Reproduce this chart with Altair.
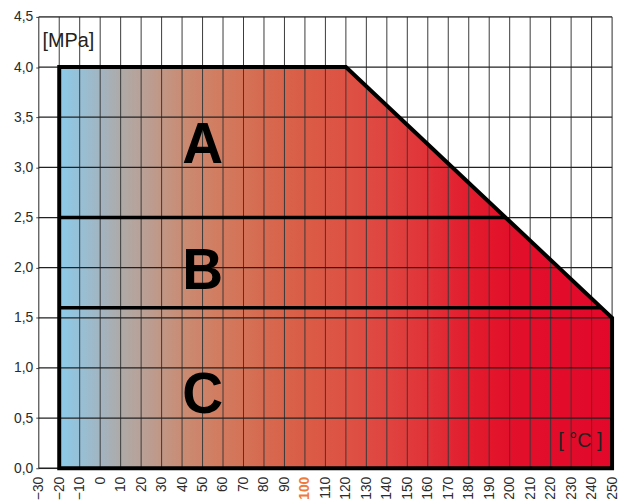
import altair as alt
import pandas as pd

# Grid ticks
x_ticks = list(range(-30, 251, 10))
y_ticks = [0.0, 0.5, 1.0, 1.5, 2.0, 2.5, 3.0, 3.5, 4.0, 4.5]

# Pressure-temperature envelope (°C, MPa)
env_t = [-20, 120, 250]
env_p = [4.0, 4.0, 1.5]

# Outline of the envelope
outline_t = [-20, -20, 120, 250, 250, -20]
outline_p = [0.0, 4.0, 4.0, 1.5, 0.0, 0.0]

# Class boundaries
bound_A_B_t = [-20, 198]
bound_A_B_p = [2.5, 2.5]
bound_B_C_t = [-20, 245]
bound_B_C_p = [1.6, 1.6]

# Class labels
cls_text = ["A", "B", "C"]
cls_t = [50, 50, 50]
cls_p = [3.23, 1.98, 0.74]

# Gradient colour stops by temperature
grad_t = [-20, 0, 10, 20, 40, 60, 80, 100, 120, 140, 160, 180, 200, 250]
grad_c = ["#8ccbea", "#a2b5c2", "#aeaaa8", "#b9a198", "#c98c74", "#d27a5e",
          "#d66a50", "#da5c46", "#dd5244", "#df4440", "#e13238", "#e21c2e",
          "#e2102a", "#e2082a"]

xs = alt.Scale(domain=[-30, 250], nice=False, zero=False)
ys = alt.Scale(domain=[0, 4.5], nice=False, zero=False)

stops = [alt.GradientStop(offset=(t - env_t[0]) / (env_t[-1] - env_t[0]), color=c)
         for t, c in zip(grad_t, grad_c)]

x_axis = alt.Axis(
    values=x_ticks, grid=False, domain=False, ticks=False, title=None,
    labelAngle=270, labelPadding=8, labelFontSize=14, labelFont="Liberation Sans",
    labelColor={"condition": {"test": "datum.value == 100", "value": "#f07a3a"}, "value": "#2a2a2a"},
    labelFontWeight={"condition": {"test": "datum.value == 100", "value": "bold"}, "value": "normal"},
    labelOverlap=False, labelFlush=False, labelBound=False,
)
y_axis = alt.Axis(
    values=y_ticks, grid=False, domain=False, ticks=True, tickSize=3,
    tickColor="#444444", title=None, labelFontSize=14, labelFont="Liberation Sans",
    labelColor="#2a2a2a", labelPadding=3,
    labelExpr="replace(format(datum.value, '.1f'), '.', ',')",
    labelOverlap=False, labelFlush=False, labelBound=False,
)

X = lambda: alt.X("t:Q", scale=xs, axis=x_axis)
Y = lambda: alt.Y("p:Q", scale=ys, axis=y_axis)

area = alt.Chart(pd.DataFrame({"t": env_t, "p": env_p})).mark_area(
    color=alt.Gradient(gradient="linear", stops=stops, x1=0, x2=1, y1=0, y2=0),
    interpolate="linear",
).encode(x=X(), y=Y(), y2=alt.datum(0))

vgrid = alt.Chart(pd.DataFrame({"t": x_ticks})).mark_rule(
    color="#3a3a3a", strokeWidth=1
).encode(x=X())

hgrid = alt.Chart(pd.DataFrame({"p": y_ticks})).mark_rule(
    color="#222222", strokeWidth=1.3
).encode(y=Y())

outline = alt.Chart(pd.DataFrame({"t": outline_t, "p": outline_p,
                                  "o": list(range(len(outline_t)))})).mark_line(
    color="black", strokeWidth=4, strokeJoin="miter", strokeCap="square"
).encode(x=X(), y=Y(), order="o:Q")

bounds_df = pd.DataFrame({
    "t": bound_A_B_t + bound_B_C_t,
    "p": bound_A_B_p + bound_B_C_p,
    "g": ["ab", "ab", "bc", "bc"],
})
bounds = alt.Chart(bounds_df).mark_line(color="black", strokeWidth=3.5).encode(
    x=X(), y=Y(), detail="g:N"
)

letters = alt.Chart(pd.DataFrame({"t": cls_t, "p": cls_p, "s": cls_text})).mark_text(
    font="Liberation Sans", fontWeight="bold", fontSize=57, color="black",
    align="center", baseline="middle", dy=2
).encode(x=X(), y=Y(), text="s:N")

unit_p = alt.Chart(pd.DataFrame({"t": [-28.2], "p": [4.26], "s": ["[MPa]"]})).mark_text(
    font="Liberation Sans", fontSize=20, color="#222222", align="left", baseline="middle"
).encode(x=X(), y=Y(), text="s:N")

unit_t = alt.Chart(pd.DataFrame({"t": [234.5], "p": [0.27], "s": ["[ °C ]"]})).mark_text(
    font="Liberation Sans", fontSize=20, color="#222222", align="center", baseline="middle"
).encode(x=X(), y=Y(), text="s:N")

chart = alt.layer(area, vgrid, hgrid, bounds, outline, letters, unit_p, unit_t).properties(
    width=578, height=455,
    autosize=alt.AutoSizeParams(type="none"),
    padding={"left": 31, "top": 7, "right": 8, "bottom": 30},
).configure_view(stroke=None).configure(background="white")

chart.save("out.html", embed_options={"renderer": "svg", "actions": False})
